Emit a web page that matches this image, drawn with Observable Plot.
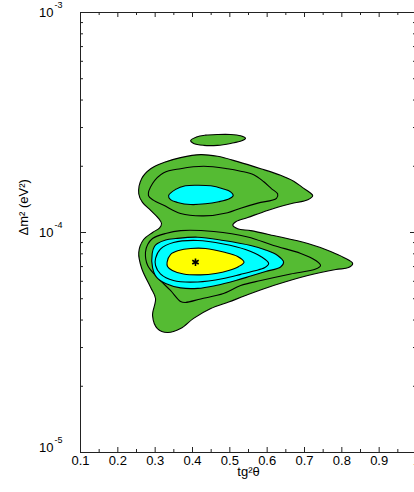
<!DOCTYPE html>
<html>
<head>
<meta charset="utf-8">
<script src="https://cdn.jsdelivr.net/npm/d3@7"></script>
<script src="https://cdn.jsdelivr.net/npm/@observablehq/plot@0.6"></script>
<style>
  html, body { margin: 0; padding: 0; background: #fff; }
  #chart { width: 414px; height: 492px; overflow: hidden; }
</style>
</head>
<body>
<div id="chart"></div>
<script>
// ---- Data (tg²θ, Δm² in units of 1e-5 eV²) ----
const UNIT = 1e-5;

const xMajor = [0.1, 0.2, 0.3, 0.4, 0.5, 0.6, 0.7, 0.8, 0.9, 1.0];
const xMinor = [0.15, 0.25, 0.35, 0.45, 0.55, 0.65, 0.75, 0.85, 0.95];
const xTickLabels = ["0.1", "0.2", "0.3", "0.4", "0.5", "0.6", "0.7", "0.8", "0.9", "1"];

const yMajor = [1e-5, 1e-4, 1e-3];
const yMinor = [2e-5, 3e-5, 4e-5, 5e-5, 6e-5, 7e-5, 8e-5, 9e-5,
                2e-4, 3e-4, 4e-4, 5e-4, 6e-4, 7e-4, 8e-4, 9e-4];
const yExponents = ["-5", "-4", "-3"];

// outermost allowed region (green)
const outerRegion = [
  [0.256,15.0],[0.264,17.6],[0.288,19.5],[0.323,20.8],[0.368,21.9],[0.422,22.6],[0.467,22.2],
  [0.521,21.0],[0.583,19.5],[0.636,18.2],[0.671,17.1],[0.695,16.0],[0.714,15.2],[0.722,14.7],
  [0.709,14.1],[0.663,13.5],[0.601,12.6],[0.548,11.7],[0.516,11.2],[0.508,10.8],[0.521,10.4],
  [0.556,10.2],[0.617,9.69],[0.709,8.91],[0.770,8.20],[0.805,7.70],[0.829,7.23],[0.818,6.93],
  [0.784,6.79],[0.709,6.38],[0.617,5.74],[0.542,5.17],[0.497,4.83],[0.449,4.51],[0.403,4.07],
  [0.368,3.66],[0.333,3.51],[0.306,3.66],[0.293,4.19],[0.301,5.01],[0.288,5.62],[0.264,6.86],
  [0.256,8.11],[0.269,9.29],[0.293,10.0],[0.312,10.5],[0.317,11.0],[0.309,11.6],[0.288,12.6],
  [0.266,13.7]
];
// small separate island (green)
const smallIsland = [
  [0.395,26.2],[0.411,27.2],[0.435,27.7],[0.467,27.9],[0.502,27.9],[0.529,27.5],[0.542,26.8],
  [0.532,26.1],[0.502,25.4],[0.467,24.9],[0.430,24.9],[0.403,25.4]
];
// inner contour line, upper lobe
const upperLine = [
  [0.282,14.7],[0.293,16.7],[0.323,18.7],[0.368,19.5],[0.430,20.0],[0.494,19.5],[0.529,19.0],
  [0.564,18.3],[0.591,17.0],[0.612,15.8],[0.628,15.0],[0.625,14.3],[0.575,13.6],[0.529,12.9],
  [0.494,12.3],[0.430,11.9],[0.368,12.2],[0.323,13.3],[0.296,14.0]
];
// upper cyan region
const upperCyan = [
  [0.336,14.7],[0.355,15.7],[0.381,16.3],[0.414,16.4],[0.449,16.3],[0.481,15.8],[0.502,15.3],
  [0.509,14.7],[0.497,14.2],[0.470,13.8],[0.435,13.5],[0.395,13.4],[0.360,13.7],[0.341,14.1]
];
// inner contour line, lower lobe
const lowerLine1 = [
  [0.274,8.14],[0.280,8.82],[0.293,9.39],[0.328,9.90],[0.368,10.2],[0.457,10.1],[0.548,9.54],
  [0.617,8.73],[0.690,8.03],[0.730,7.46],[0.743,7.08],[0.730,6.82],[0.663,6.48],[0.583,6.05],
  [0.529,5.74],[0.483,5.28],[0.422,4.99],[0.381,4.81],[0.368,4.86],[0.341,5.45],[0.306,6.25],
  [0.280,7.08]
];
// lower cyan region
const lowerCyan = [
  [0.292,8.03],[0.298,8.64],[0.306,8.91],[0.328,9.25],[0.355,9.39],[0.414,9.52],[0.483,9.20],
  [0.556,8.73],[0.596,8.33],[0.628,7.86],[0.644,7.34],[0.636,6.97],[0.596,6.65],[0.556,6.34],
  [0.516,6.05],[0.462,5.74],[0.414,5.57],[0.368,5.60],[0.328,5.86],[0.304,6.25],[0.293,6.93]
];
// contour line inside the lower cyan region
const lowerLine2 = [
  [0.301,7.62],[0.314,8.41],[0.349,9.01],[0.414,9.20],[0.483,8.87],[0.542,8.37],[0.583,7.78],
  [0.604,7.23],[0.594,6.93],[0.564,6.68],[0.529,6.45],[0.483,6.18],[0.414,5.96],[0.349,6.05],
  [0.314,6.49],[0.301,7.08]
];
// innermost region (yellow)
const yellowRegion = [
  [0.332,7.33],[0.341,7.94],[0.363,8.28],[0.395,8.46],[0.435,8.46],[0.483,8.15],[0.521,7.78],
  [0.538,7.33],[0.524,7.01],[0.497,6.72],[0.462,6.51],[0.422,6.42],[0.376,6.48],[0.346,6.72],
  [0.333,7.01]
];
// best-fit point
const bestFit = [[0.408, 7.33]];

// ---- Chart ----
const GREEN = "#55bb33", CYAN = "#00ffff", YELLOW = "#ffff00";
const acc = {x: d => d[0], y: d => d[1] * UNIT};
const closed = (data, fill) => Plot.line(data, {
  ...acc, curve: "catmull-rom-closed", fill, stroke: "#000", strokeWidth: 1.1
});
const isBottom = d => d === yMajor[0];

const chart = Plot.plot({
  width: 414,
  height: 492,
  marginLeft: 80,
  marginRight: -2,
  marginTop: 12,
  marginBottom: 40,
  x: {domain: [0.1, 1.0], axis: null},
  y: {type: "log", domain: [1e-5, 1e-3], axis: null},
  style: {fontFamily: "'Liberation Sans', Arial, sans-serif", fontSize: "13px", background: "#fff", color: "#000"},
  marks: [
    closed(outerRegion, GREEN),
    closed(smallIsland, GREEN),
    closed(upperLine, "none"),
    closed(upperCyan, CYAN),
    closed(lowerLine1, "none"),
    closed(lowerCyan, CYAN),
    closed(lowerLine2, "none"),
    closed(yellowRegion, YELLOW),
    Plot.dot(bestFit, {...acc, symbol: "asterisk", r: 3.5, stroke: "#000", strokeWidth: 1.6}),
    // frame and inward ticks
    Plot.frame({stroke: "#222", strokeWidth: 1}),
    Plot.ruleX(xMajor, {insetTop: 435, stroke: "#222"}),
    Plot.ruleX(xMajor, {insetBottom: 435, stroke: "#222"}),
    Plot.ruleX(xMinor, {insetTop: 437, stroke: "#222"}),
    Plot.ruleX(xMinor, {insetBottom: 437, stroke: "#222"}),
    Plot.ruleY(yMajor, {insetRight: 330, stroke: "#222"}),
    Plot.ruleY(yMajor, {insetLeft: 330, stroke: "#222"}),
    Plot.ruleY(yMinor, {insetRight: 333, stroke: "#222"}),
    Plot.ruleY(yMinor, {insetLeft: 333, stroke: "#222"}),
    // tick labels
    Plot.text(xMajor, {x: d => d, frameAnchor: "bottom", dy: 12, text: (d, i) => xTickLabels[i], fontSize: 13}),
    Plot.text(yMajor, {filter: d => !isBottom(d), y: d => d, frameAnchor: "left", dx: -27, textAnchor: "end", text: () => "10", fontSize: 13}),
    Plot.text(yMajor, {filter: d => !isBottom(d), y: d => d, frameAnchor: "left", dx: -26, dy: -7, textAnchor: "start", text: (d, i) => yExponents[i], fontSize: 9}),
    Plot.text(yMajor, {filter: isBottom, y: d => d, frameAnchor: "left", dx: -27, dy: -5, textAnchor: "end", text: () => "10", fontSize: 13}),
    Plot.text(yMajor, {filter: isBottom, y: d => d, frameAnchor: "left", dx: -26, dy: -12, textAnchor: "start", text: (d, i) => yExponents[i], fontSize: 9}),
    // axis titles
    Plot.text(["tg²θ"], {frameAnchor: "bottom", dy: 23, text: d => d, fontSize: 13}),
    Plot.text(["Δm² (eV²)"], {frameAnchor: "left", dx: -57, dy: 3, rotate: -90, text: d => d, fontSize: 13})
  ]
});
document.getElementById("chart").append(chart);
</script>
</body>
</html>
